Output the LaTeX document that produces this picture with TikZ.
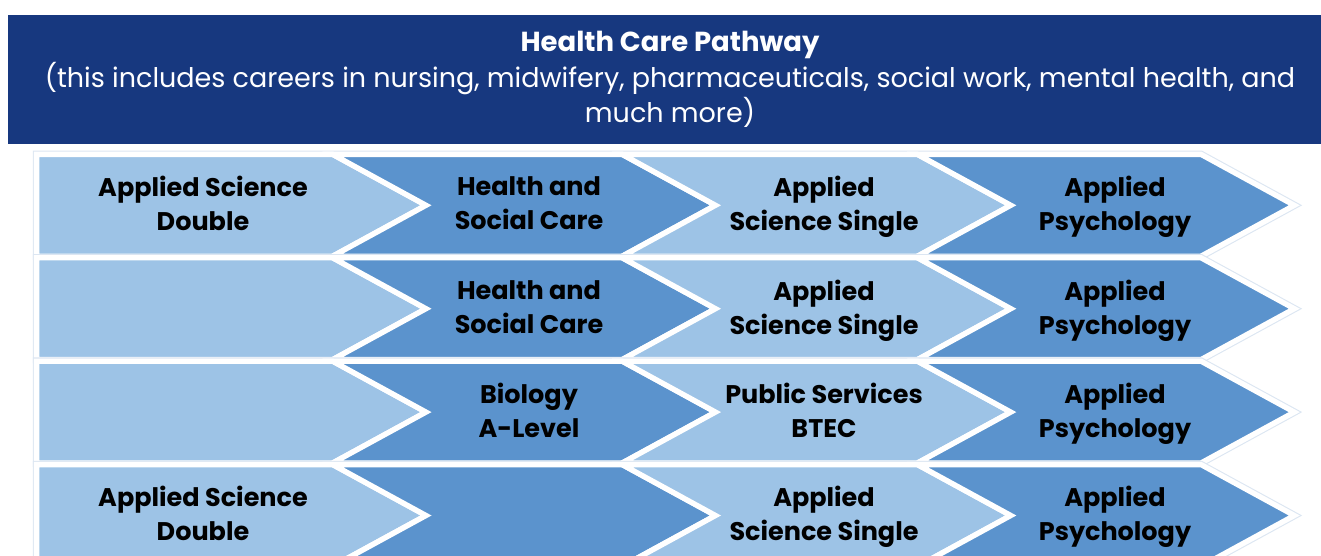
\documentclass[tikz,border=0pt]{standalone}
\usepackage{fontspec}
\setmainfont{Poppins}

\definecolor{headblue}{HTML}{17387F}
\definecolor{chevlight}{HTML}{9DC3E6}
\definecolor{chevdark}{HTML}{5B93CD}
\definecolor{edgefaint}{HTML}{DCE6F2}

\tikzset{
  chevbox/.style={draw=white, line width=5.3pt, line join=miter},
  chevedge/.style={draw=edgefaint, line width=7.5pt, line join=miter},
  chevtext/.style={font=\bfseries\fontsize{25.5}{34}\selectfont, align=center, text=black,
    execute at end node={\vphantom{g}}},
  headtitle/.style={font=\bfseries\fontsize{27.5}{35}\selectfont, text=white},
  headtext/.style={font=\fontsize{27}{35}\selectfont, align=center, text=white},
}

% #1 style, #2 left x, #3 right x, #4 centre y, #5 notch depth
\newcommand{\chevron}[5]{%
  \draw[#1] (#2,{#4-50.9}) -- (#3,{#4-50.9}) -- ({#3+93.3},#4)
    -- (#3,{#4+50.9}) -- (#2,{#4+50.9}) -- ({#2+#5},#4) -- cycle;}

\begin{document}
\begin{tikzpicture}[x=1pt,y=-1pt]
  \useasboundingbox (0,0) rectangle (1321,556);
  \clip (0,0) rectangle (1321,556);

  \fill[headblue] (8,15) rectangle (1321,144);
  \node[headtitle] (title) at (670,44.5) {Health Care Pathway};
  \node[headtext] (scope) at (670,95) {(this includes careers in nursing, midwifery, pharmaceuticals, social work, mental health, and\\much more)};

  \foreach \r in {0,...,3} {
    \pgfmathsetmacro{\yc}{205.3+103.4*\r}
    \chevron{chevedge}{36.6}{1201}{\yc}{0}
    \chevron{chevbox, fill=chevlight}{36.6}{332.7}{\yc}{0}
    \chevron{chevbox, fill=chevdark}{332.7}{622.2}{\yc}{93.3}
    \chevron{chevbox, fill=chevlight}{622.2}{917.5}{\yc}{93.3}
    \chevron{chevbox, fill=chevdark}{917.5}{1201}{\yc}{93.3}
  }

  \node[chevtext] (a1) at (203,207) {Applied Science\\Double};
  \node[chevtext] (b1) at (529,207) {Health and\\Social Care};
  \node[chevtext] (c1) at (824,207) {Applied\\Science Single};
  \node[chevtext] (d1) at (1115,207) {Applied\\Psychology};

  \node[chevtext] (b2) at (529,310.4) {Health and\\Social Care};
  \node[chevtext] (c2) at (824,310.4) {Applied\\Science Single};
  \node[chevtext] (d2) at (1115,310.4) {Applied\\Psychology};

  \node[chevtext] (b3) at (529,413.8) {Biology\\A-Level};
  \node[chevtext] (c3) at (824,413.8) {Public Services\\BTEC};
  \node[chevtext] (d3) at (1115,413.8) {Applied\\Psychology};

  \node[chevtext] (a4) at (203,517.2) {Applied Science\\Double};
  \node[chevtext] (c4) at (824,517.2) {Applied\\Science Single};
  \node[chevtext] (d4) at (1115,517.2) {Applied\\Psychology};
\end{tikzpicture}
\end{document}
